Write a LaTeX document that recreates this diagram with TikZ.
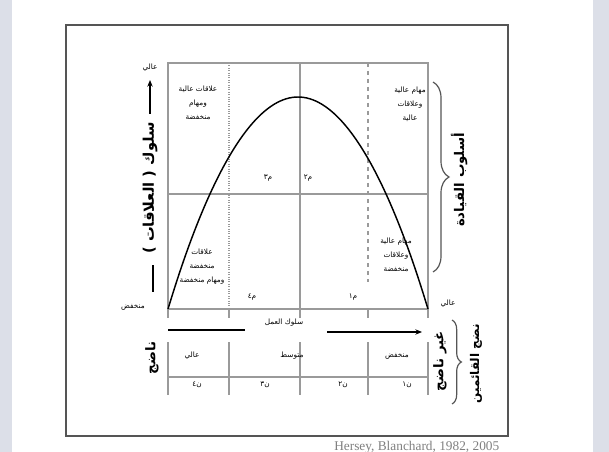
\documentclass[tikz,border=0pt]{standalone}
\usepackage{fontspec}
\setmainfont{Liberation Serif}
\usetikzlibrary{decorations.pathreplacing,arrows.meta}
\TeXXeTstate=1
\newfontfamily\arfont[Script=Arabic]{DejaVu Sans}
\newcommand{\AR}[1]{{\arfont\beginR #1\endR}}
\definecolor{bgc}{HTML}{DCDFE8}
\definecolor{gridc}{HTML}{9A9A9A}
\definecolor{framec}{HTML}{555555}
\begin{document}
\begin{tikzpicture}[x=0.75pt,y=-0.75pt,
  lbl/.style={font=\fontsize{5.5}{7.5}\selectfont, inner sep=0pt, align=center},
  ttl/.style={font=\fontsize{10}{12}\selectfont\bfseries, inner sep=0pt, rotate=90},
  gridline/.style={draw=gridc, line width=0.8pt},
  curveline/.style={draw=black, line width=1.1pt},
  axisline/.style={draw=black, line width=1.1pt},
  bracestyle/.style={draw=framec, line width=0.9pt, decorate}]
\fill[bgc] (0,0) rectangle (609,452);
\fill[white] (12,0) rectangle (593,452);
\useasboundingbox (0,0) rectangle (609,452);
\draw[framec, line width=2.2pt] (66,25) rectangle (508,436);
% plot
\coordinate (tl) at (168,63); \coordinate (br) at (428,309);
\draw[gridline] (tl) rectangle (br);
\coordinate (ml) at (168,194); \coordinate (mr) at (428,194);
\draw[gridline] (ml) -- (mr);
\coordinate (v1t) at (229,63); \coordinate (v1b) at (229,309);
\coordinate (v2t) at (300,63); \coordinate (v2b) at (300,318);
\coordinate (v3t) at (368,63); \coordinate (v3b) at (368,282);
\draw[gridline, densely dotted] (v1t) -- (v1b);
\draw[gridline] (v2t) -- (v2b);
\draw[gridline, dashed] (v3t) -- (v3b);
\foreach \xx in {168,229,368,428} \draw[gridline] (\xx,309) -- (\xx,318);
\draw[curveline] (168,309) parabola bend (298,97) (428,309);
% right brace
\coordinate (b1t) at (433,82); \coordinate (b1b) at (433,272);
\draw[bracestyle, decoration={brace, amplitude=12pt}] (b1t) -- (b1b);
\node[ttl] (style) at (459,180) {\AR{أسلوب القيادة}};
% left axis
\node[lbl] (hiY) at (150,68) {\AR{عالي}};
\coordinate (ya) at (150,114); \coordinate (yb) at (150,80);
\draw[axisline, -{Stealth[length=5pt,width=4pt]}] (ya) -- (yb);
\node[ttl, font=\fontsize{11}{13}\selectfont\bfseries] (ylab) at (150,188) {\AR{سلوك ( العلاقات )}};
\coordinate (ba) at (153,265); \coordinate (bb) at (153,292);
\draw[line width=1.6pt] (ba) -- (bb);
\node[lbl] (loY) at (133,307) {\AR{منخفض}};
% quadrant labels
\node[lbl] (q3) at (198,103) {\AR{علاقات عالية}\\[3pt]\AR{ومهام}\\[3pt]\AR{منخفضة}};
\node[lbl] (q2) at (410,104) {\AR{مهام عالية}\\[3pt]\AR{وعلاقات}\\[3pt]\AR{عالية}};
\node[lbl] (q4) at (202,267) {\AR{علاقات}\\[3pt]\AR{منخفضة}\\[3pt]\AR{ومهام منخفضة}};
\node[lbl] (q1) at (396,255) {\AR{مهام عالية}\\[3pt]\AR{وعلاقات}\\[3pt]\AR{منخفضة}};
\node[lbl] (m3) at (268,178) {\AR{م٣}};
\node[lbl] (m2) at (308,178) {\AR{م٢}};
\node[lbl] (m4) at (252,297) {\AR{م٤}};
\node[lbl] (m1) at (353,297) {\AR{م١}};
\node[lbl] (hiX) at (448,304) {\AR{عالي}};
% x axis
\node[lbl] (xlab) at (284,323) {\AR{سلوك العمل}};
\coordinate (xa) at (168,330); \coordinate (xb) at (245,330);
\draw[line width=1.6pt] (xa) -- (xb);
\coordinate (xc) at (327,332); \coordinate (xd) at (422,332);
\draw[axisline, -{Stealth[length=5pt,width=4pt]}] (xc) -- (xd);
% maturity table
\foreach \xx in {168,229,300,368,428} \draw[gridline, line width=1pt] (\xx,342) -- (\xx,395);
\coordinate (hl) at (168,377); \coordinate (hr) at (428,377);
\draw[gridline] (hl) -- (hr);
\node[lbl] (t1) at (192,356) {\AR{عالي}};
\node[lbl] (t2) at (292,356) {\AR{متوسط}};
\node[lbl] (t3) at (397,356) {\AR{منخفض}};
\node[lbl] (n4) at (197,385) {\AR{ن٤}};
\node[lbl] (n3) at (265,385) {\AR{ن٣}};
\node[lbl] (n2) at (343,385) {\AR{ن٢}};
\node[lbl] (n1) at (407,385) {\AR{ن١}};
\node[ttl] (mat) at (152,358) {\AR{ناضج}};
\node[ttl] (imm) at (440,361) {\AR{غير ناضج}};
\coordinate (b2t) at (452,320); \coordinate (b2b) at (452,404);
\draw[bracestyle, decoration={brace, amplitude=7pt}] (b2t) -- (b2b);
\node[ttl, font=\fontsize{9}{11}\selectfont\bfseries] (fol) at (476,364) {\AR{نضج القائمين}};
% caption
\node[anchor=base west, inner sep=0pt, text=gray, font=\fontsize{10}{11}\selectfont] (cap) at (334,450) {Hersey, Blanchard, 1982, 2005};
\end{tikzpicture}
\end{document}
